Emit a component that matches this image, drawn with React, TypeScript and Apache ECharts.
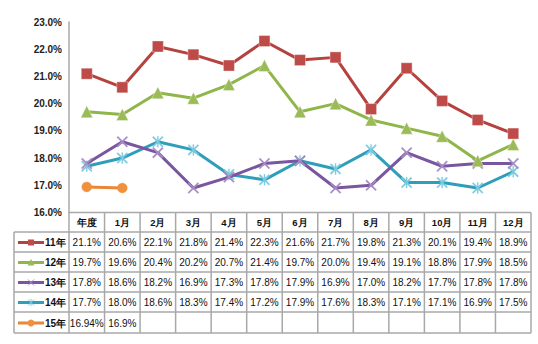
import React, { useEffect, useRef } from "react";
import * as echarts from "echarts";

const categories = ["年度", "1月", "2月", "3月", "4月", "5月", "6月", "7月", "8月", "9月", "10月", "11月", "12月"];
const seriesNames = ["11年", "12年", "13年", "14年", "15年"];
const s11 = [21.1, 20.6, 22.1, 21.8, 21.4, 22.3, 21.6, 21.7, 19.8, 21.3, 20.1, 19.4, 18.9];
const s12 = [19.7, 19.6, 20.4, 20.2, 20.7, 21.4, 19.7, 20.0, 19.4, 19.1, 18.8, 17.9, 18.5];
const s13 = [17.8, 18.6, 18.2, 16.9, 17.3, 17.8, 17.9, 16.9, 17.0, 18.2, 17.7, 17.8, 17.8];
const s14 = [17.7, 18.0, 18.6, 18.3, 17.4, 17.2, 17.9, 17.6, 18.3, 17.1, 17.1, 16.9, 17.5];
const s15 = [16.94, 16.9];
const yMin = 16;
const yMax = 23;
const yStep = 1;

const allData = [s11, s12, s13, s14, s15];
const lineColors = ["#B5423F", "#8FB54B", "#7A55A0", "#2F9EBA", "#E8873A"];
const markColors = ["#BE4B48", "#9BBB59", "#A58CC4", "#7CCBE0", "#F0913F"];

const X_PATH = "path://M0,1 L1,0 L10,9 L9,10 Z M9,0 L10,1 L1,10 L0,9 Z";
const STAR_PATH = "path://M0,1 L1,0 L10,9 L9,10 Z M9,0 L10,1 L1,10 L0,9 Z M4.5,0 L5.5,0 L5.5,10 L4.5,10 Z";
const symbols = ["rect", "triangle", X_PATH, STAR_PATH, "circle"];
const symbolSizes = [11, 12, 11, 11, 10];

const fmt = (v: number) => (Number.isInteger(v) ? v.toFixed(1) : String(v)) + "%";

// layout
const W = 538;
const H = 344;
const gridLeft = 69;
const gridRight = 531;
const gridTop = 22;
const gridBottom = 212.5;
const tableLeft = 14;
const rowYs = [212.5, 232, 252, 272, 292, 312, 333];
const FONT = "'Liberation Sans', Arial, sans-serif";
const LINE = "#a8a8a8";

function buildTable() {
  const els: any[] = [];
  const n = categories.length;
  const cw = (gridRight - gridLeft) / n;
  // horizontal lines
  rowYs.forEach((y, i) => {
    els.push({
      type: "line",
      shape: { x1: i === 0 ? gridLeft : tableLeft, y1: y, x2: gridRight, y2: y },
      style: { stroke: LINE, lineWidth: 1.5 },
      silent: true,
    });
  });
  // vertical lines
  els.push({
    type: "line",
    shape: { x1: tableLeft, y1: rowYs[1], x2: tableLeft, y2: rowYs[rowYs.length - 1] },
    style: { stroke: LINE, lineWidth: 1.5 },
  });
  for (let i = 0; i <= n; i++) {
    const x = gridLeft + i * cw;
    els.push({
      type: "line",
      shape: { x1: x, y1: rowYs[0], x2: x, y2: rowYs[rowYs.length - 1] },
      style: { stroke: LINE, lineWidth: 1.5 },
    });
  }
  // header
  categories.forEach((c, i) => {
    els.push({
      type: "text",
      x: gridLeft + (i + 0.5) * cw,
      y: (rowYs[0] + rowYs[1]) / 2 + 0.5,
      style: {
        text: c,
        fill: "#111",
        font: `bold 9.5px ${FONT}`,
        align: "center",
        verticalAlign: "middle",
      },
    });
  });
  // rows
  allData.forEach((arr, r) => {
    const cy = (rowYs[r + 1] + rowYs[r + 2]) / 2 + 0.5;
    arr.forEach((v, i) => {
      els.push({
        type: "text",
        x: gridLeft + (i + 0.5) * cw,
        y: cy,
        style: {
          text: fmt(v),
          fill: "#111",
          font: `10px ${FONT}`,
          align: "center",
          verticalAlign: "middle",
        },
      });
    });
    // legend key
    const lx1 = 18;
    const lx2 = 44;
    const mx = (lx1 + lx2) / 2;
    els.push({
      type: "line",
      shape: { x1: lx1, y1: cy, x2: lx2, y2: cy },
      style: { stroke: lineColors[r], lineWidth: 3 },
    });
    const mc = markColors[r];
    if (r === 0) {
      els.push({ type: "rect", shape: { x: mx - 3, y: cy - 3, width: 6, height: 6 }, style: { fill: mc } });
    } else if (r === 1) {
      els.push({
        type: "polygon",
        shape: { points: [[mx, cy - 3.5], [mx + 3.5, cy + 3], [mx - 3.5, cy + 3]] },
        style: { fill: mc },
      });
    } else if (r === 2 || r === 3) {
      els.push({ type: "line", shape: { x1: mx - 3, y1: cy - 3, x2: mx + 3, y2: cy + 3 }, style: { stroke: mc, lineWidth: 1 } });
      els.push({ type: "line", shape: { x1: mx - 3, y1: cy + 3, x2: mx + 3, y2: cy - 3 }, style: { stroke: mc, lineWidth: 1 } });
      if (r === 3) {
        els.push({ type: "line", shape: { x1: mx, y1: cy - 3.5, x2: mx, y2: cy + 3.5 }, style: { stroke: mc, lineWidth: 1 } });
      }
    } else {
      els.push({ type: "circle", shape: { cx: mx, cy, r: 3.5 }, style: { fill: mc } });
    }
    els.push({
      type: "text",
      x: 45,
      y: cy,
      style: {
        text: seriesNames[r],
        fill: "#111",
        font: `bold 10px ${FONT}`,
        align: "left",
        verticalAlign: "middle",
      },
    });
  });
  return els;
}

export default function App() {
  const ref = useRef<HTMLDivElement>(null);
  useEffect(() => {
    if (!ref.current) return;
    const chart = echarts.init(ref.current, null, { renderer: "svg" });
    chart.setOption({
      animation: false,
      backgroundColor: "#ffffff",
      grid: { left: gridLeft, right: W - gridRight, top: gridTop, bottom: H - gridBottom, containLabel: false },
      xAxis: {
        type: "category",
        data: categories,
        boundaryGap: true,
        axisLine: { show: false },
        axisTick: { show: false },
        axisLabel: { show: false },
        splitLine: { show: false },
      },
      yAxis: {
        type: "value",
        min: yMin,
        max: yMax,
        interval: yStep,
        axisLine: { show: true, lineStyle: { color: LINE, width: 1.5 } },
        axisTick: { show: false },
        splitLine: { show: false },
        axisLabel: {
          margin: 7,
          formatter: (v: number) => v.toFixed(1) + "%",
          fontFamily: FONT,
          fontSize: 10,
          fontWeight: "bold",
          color: "#222",
        },
      },
      series: allData.map((arr, i) => ({
        name: seriesNames[i],
        type: "line",
        data: arr,
        symbol: symbols[i],
        symbolSize: symbolSizes[i],
        showAllSymbol: true,
        lineStyle: { color: lineColors[i], width: 3 },
        itemStyle: {
          color: markColors[i],
          borderColor: i < 2 ? "rgba(255,255,255,0.35)" : markColors[i],
          borderWidth: i < 2 ? 1 : 0.3,
        },
        z: 10 - i,
      })),
      graphic: buildTable(),
    });
    return () => chart.dispose();
  }, []);
  return (
    <div
      ref={ref}
      style={{ position: "fixed", left: 0, top: 0, width: W, height: H, background: "#fff" }}
    />
  );
}
